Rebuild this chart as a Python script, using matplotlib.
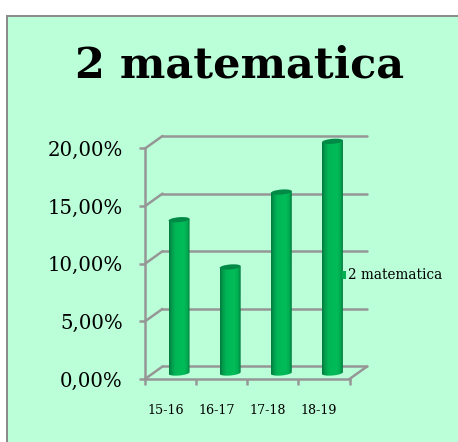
import numpy as np
import matplotlib
matplotlib.use("Agg")
import matplotlib.pyplot as plt
from matplotlib.patches import Ellipse, Rectangle, Polygon
from matplotlib.transforms import Affine2D, IdentityTransform
from matplotlib.colors import LinearSegmentedColormap

categories = ["15-16", "16-17", "17-18", "18-19"]
values = [13.3, 9.2, 15.7, 20.1]
y_ticks = [0, 5, 10, 15, 20]
y_labels = ["0,00%", "5,00%", "10,00%", "15,00%", "20,00%"]
title = "2 matematica"
series_name = "2 matematica"

W, H = 458, 442
BG = "#BBFFD9"
GRID = "#969696"
FONT = ["DejaVu Serif"]

fig = plt.figure(figsize=(W / 100, H / 100), dpi=100, facecolor="white")

def box(x0, y0, x1, y1):
    return [x0 / W, 1 - y1 / H, (x1 - x0) / W, (y1 - y0) / H]

# panel
fig.patches.append(Rectangle((8 / W, 0), 1, 1 - 17 / H, transform=fig.transFigure, fc=BG, ec="none", zorder=-3))
fig.patches.append(Rectangle((6 / W, 0), 2 / W, 1 - 15 / H, transform=fig.transFigure, fc="#8C8C8C", ec="none", zorder=-2))
fig.patches.append(Rectangle((6 / W, 1 - 17 / H), 1, 2 / H, transform=fig.transFigure, fc="#8C8C8C", ec="none", zorder=-2))

fig.text(239.5 / W, 1 - 66 / H, title, ha="center", va="center", fontsize=31,
         fontweight="bold", family=["DejaVu Serif"], color="black")

ax = fig.add_axes(box(145, 148.5, 349.5, 379))
ax.set_xlim(-0.5, 3.5)
ax.set_ylim(0, 20)
ax.patch.set_alpha(0)
for s in ["top", "right"]:
    ax.spines[s].set_visible(False)
for s in ["left", "bottom"]:
    ax.spines[s].set_color(GRID)
    ax.spines[s].set_linewidth(1.8)
ax.set_xticks(np.arange(-0.5, 4, 1), minor=False)
ax.set_xticklabels([])
ax.set_yticks(y_ticks)
ax.set_yticklabels(y_labels, family=FONT, fontsize=14.2, color="black")
ax.tick_params(axis="y", length=4, width=1.8, color=GRID, pad=12)
ax.tick_params(axis="x", length=4, width=1.8, color=GRID, direction="out")

for i, c in enumerate(categories):
    ax.annotate(c, (i, 0), xytext=(-5, -32), textcoords="offset pixels", ha="center", va="center",
                family=FONT, fontsize=9.2, color="black")

DX, DY = 17.5, 12.5  # depth of the 3-D box, pixels

def px(x, y):
    return ax.transData.transform((x, y))

inv = fig.transFigure.inverted()

def fig_line(p, q):
    a, b = inv.transform(p), inv.transform(q)
    ax.add_line(plt.Line2D([a[0], b[0]], [a[1], b[1]], transform=fig.transFigure,
                           color=GRID, lw=1.8, clip_on=False, zorder=1, solid_capstyle="round"))

x_end = 3.5
for t in y_ticks:
    p = px(-0.5, t)
    back = (p[0] + DX, p[1] + DY)
    fig_line(p, back)
    e = px(x_end, t)
    fig_line(back, (e[0] + DX, e[1] + DY))
p = px(x_end, 0)
fig_line(p, (p[0] + DX, p[1] + DY))

cmap = LinearSegmentedColormap.from_list(
    "cyl", [(0, "#007A3C"), (0.12, "#009A4C"), (0.3, "#00B656"), (0.7, "#00BC58"),
            (0.88, "#00AC52"), (1, "#007A3C")])
grad = np.linspace(0, 1, 64).reshape(1, -1)
HALF_W = 10.5
CAP_H = 5
SHIFT = np.array((8.5, 6.0))
TILT = np.deg2rad(5)
tt = np.linspace(np.pi, 2 * np.pi, 40)

for i, v in enumerate(values):
    base = px(i, 0) + SHIFT
    top = px(i, v) + SHIFT
    x0d, y0d = ax.transData.inverted().transform((base[0] - HALF_W, base[1] - CAP_H))
    x1d, y1d = ax.transData.inverted().transform((base[0] + HALF_W, top[1] + CAP_H))
    im = ax.imshow(grad, extent=(x0d, x1d, y0d, y1d), aspect="auto", cmap=cmap, zorder=3,
                   interpolation="bilinear", clip_on=False)
    ex = HALF_W * np.cos(tt)
    ey = CAP_H / 2 * np.sin(tt)
    rx = ex * np.cos(TILT) - ey * np.sin(TILT)
    ry = ex * np.sin(TILT) + ey * np.cos(TILT)
    outline = np.column_stack([base[0] + rx, base[1] + ry])
    outline = np.vstack([outline, [top[0] + HALF_W, top[1] + HALF_W * np.sin(TILT)],
                         [top[0] - HALF_W, top[1] - HALF_W * np.sin(TILT)]])
    im.set_clip_on(True)
    im.set_clip_box(fig.bbox)
    im.set_clip_path(Polygon(outline, closed=True, transform=IdentityTransform()))
    capt = Ellipse((0, 0), 2 * HALF_W, CAP_H, transform=Affine2D().rotate(TILT).translate(*top),
                   fc="#008A45", ec="none", zorder=3.2, clip_on=False)
    ax.add_patch(capt)
ax.set_xlim(-0.5, 3.5)
ax.set_ylim(0, 20)

# legend
fig.patches.append(Rectangle((341.5 / W, 1 - 279 / H), 4 / W, 8.5 / H, transform=fig.transFigure,
                             fc="#00B050", ec="none", zorder=5))
fig.text(348 / W, 1 - 275 / H, series_name, ha="left", va="center", family=FONT, fontsize=9.8,
         color="black", zorder=6)

fig.savefig("out.png", dpi=100, facecolor="white")
